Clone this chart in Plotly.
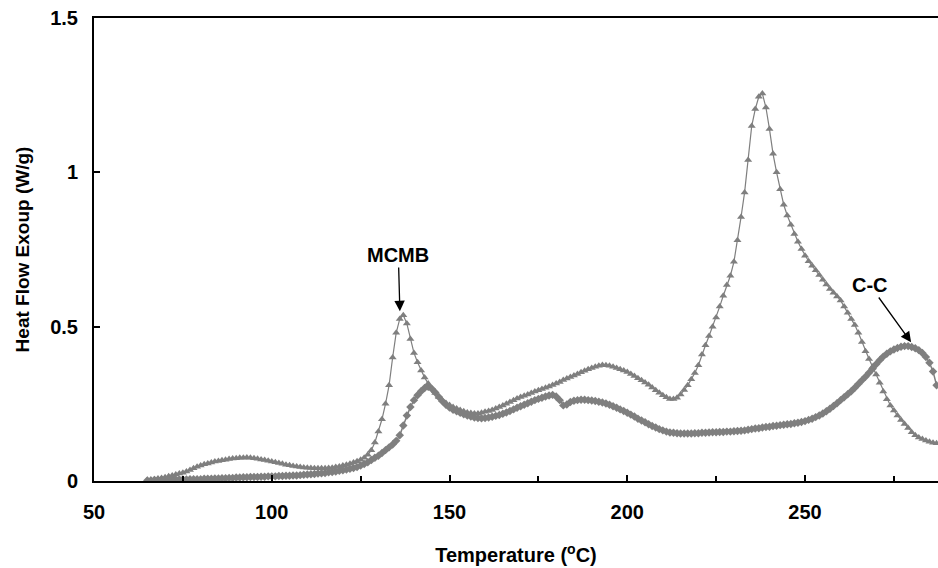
import plotly.graph_objects as go

# DSC heat flow traces (W/g) sampled every 1 degC
temperature = [
    65, 66, 67, 68, 69, 70, 71, 72, 73, 74, 75, 76, 77, 78, 79, 80, 81, 82, 83, 84,
    85, 86, 87, 88, 89, 90, 91, 92, 93, 94, 95, 96, 97, 98, 99, 100, 101, 102, 103, 104,
    105, 106, 107, 108, 109, 110, 111, 112, 113, 114, 115, 116, 117, 118, 119, 120, 121, 122, 123, 124,
    125, 126, 127, 128, 129, 130, 131, 132, 133, 134, 135, 136, 137, 138, 139, 140, 141, 142, 143, 144,
    145, 146, 147, 148, 149, 150, 151, 152, 153, 154, 155, 156, 157, 158, 159, 160, 161, 162, 163, 164,
    165, 166, 167, 168, 169, 170, 171, 172, 173, 174, 175, 176, 177, 178, 179, 180, 181, 182, 183, 184,
    185, 186, 187, 188, 189, 190, 191, 192, 193, 194, 195, 196, 197, 198, 199, 200, 201, 202, 203, 204,
    205, 206, 207, 208, 209, 210, 211, 212, 213, 214, 215, 216, 217, 218, 219, 220, 221, 222, 223, 224,
    225, 226, 227, 228, 229, 230, 231, 232, 233, 234, 235, 236, 237, 238, 239, 240, 241, 242, 243, 244,
    245, 246, 247, 248, 249, 250, 251, 252, 253, 254, 255, 256, 257, 258, 259, 260, 261, 262, 263, 264,
    265, 266, 267, 268, 269, 270, 271, 272, 273, 274, 275, 276, 277, 278, 279, 280, 281, 282, 283, 284,
    285, 286, 287,
]

mcmb = [
    0.003, 0.004, 0.006, 0.008, 0.010, 0.012, 0.015, 0.018, 0.021, 0.024, 0.027, 0.031, 0.036, 0.041, 0.046, 0.050, 0.054, 0.057, 0.060, 0.063,
    0.065, 0.067, 0.069, 0.071, 0.073, 0.074, 0.075, 0.075, 0.076, 0.075, 0.074, 0.072, 0.070, 0.068, 0.066, 0.063, 0.061, 0.058, 0.056, 0.053,
    0.051, 0.049, 0.047, 0.045, 0.044, 0.043, 0.042, 0.041, 0.041, 0.041, 0.041, 0.042, 0.043, 0.045, 0.047, 0.050, 0.053, 0.056, 0.060, 0.064,
    0.069, 0.075, 0.085, 0.100, 0.125, 0.160, 0.200, 0.250, 0.310, 0.400, 0.480, 0.525, 0.537, 0.510, 0.460, 0.415, 0.385, 0.358, 0.335, 0.316,
    0.300, 0.285, 0.272, 0.262, 0.253, 0.246, 0.240, 0.235, 0.230, 0.226, 0.222, 0.220, 0.219, 0.219, 0.221, 0.224, 0.227, 0.230, 0.235, 0.240,
    0.245, 0.250, 0.256, 0.262, 0.267, 0.272, 0.276, 0.280, 0.285, 0.290, 0.294, 0.298, 0.302, 0.306, 0.311, 0.316, 0.321, 0.327, 0.332, 0.337,
    0.342, 0.347, 0.352, 0.357, 0.362, 0.366, 0.370, 0.373, 0.376, 0.375, 0.373, 0.370, 0.366, 0.362, 0.358, 0.353, 0.347, 0.340, 0.333, 0.326,
    0.319, 0.312, 0.303, 0.294, 0.286, 0.278, 0.271, 0.266, 0.266, 0.270, 0.280, 0.295, 0.310, 0.330, 0.350, 0.375, 0.410, 0.440, 0.470, 0.500,
    0.530, 0.565, 0.600, 0.635, 0.665, 0.710, 0.780, 0.855, 0.935, 1.040, 1.150, 1.205, 1.245, 1.255, 1.210, 1.140, 1.060, 1.000, 0.945, 0.895,
    0.860, 0.830, 0.800, 0.775, 0.752, 0.730, 0.712, 0.697, 0.683, 0.667, 0.652, 0.637, 0.622, 0.610, 0.598, 0.585, 0.565, 0.545, 0.525, 0.505,
    0.480, 0.450, 0.420, 0.395, 0.370, 0.345, 0.318, 0.290, 0.265, 0.245, 0.228, 0.212, 0.198, 0.185, 0.172, 0.158, 0.148, 0.141, 0.136, 0.131,
    0.127, 0.124, 0.122,
]

cc = [
    0.002, 0.002, 0.003, 0.003, 0.004, 0.004, 0.004, 0.005, 0.005, 0.005, 0.005, 0.005, 0.006, 0.006, 0.006, 0.006, 0.007, 0.007, 0.007, 0.008,
    0.008, 0.009, 0.009, 0.010, 0.010, 0.011, 0.011, 0.012, 0.012, 0.013, 0.013, 0.013, 0.014, 0.014, 0.015, 0.015, 0.015, 0.016, 0.016, 0.017,
    0.017, 0.018, 0.018, 0.019, 0.020, 0.021, 0.022, 0.023, 0.024, 0.025, 0.026, 0.028, 0.029, 0.031, 0.033, 0.035, 0.037, 0.040, 0.042, 0.045,
    0.050, 0.055, 0.061, 0.068, 0.075, 0.082, 0.091, 0.100, 0.109, 0.118, 0.130, 0.148, 0.180, 0.212, 0.240, 0.262, 0.278, 0.291, 0.301, 0.305,
    0.299, 0.287, 0.272, 0.258, 0.247, 0.238, 0.231, 0.226, 0.221, 0.216, 0.212, 0.209, 0.206, 0.204, 0.203, 0.204, 0.206, 0.208, 0.211, 0.214,
    0.218, 0.222, 0.227, 0.232, 0.237, 0.242, 0.247, 0.252, 0.257, 0.262, 0.266, 0.270, 0.274, 0.277, 0.279, 0.274, 0.262, 0.245, 0.248, 0.256,
    0.260, 0.262, 0.263, 0.263, 0.262, 0.261, 0.259, 0.257, 0.254, 0.251, 0.247, 0.242, 0.237, 0.232, 0.227, 0.221, 0.215, 0.209, 0.202, 0.196,
    0.190, 0.184, 0.178, 0.173, 0.168, 0.164, 0.160, 0.157, 0.156, 0.155, 0.154, 0.154, 0.154, 0.154, 0.155, 0.155, 0.156, 0.156, 0.157, 0.158,
    0.158, 0.159, 0.159, 0.160, 0.160, 0.161, 0.162, 0.163, 0.164, 0.166, 0.168, 0.170, 0.171, 0.173, 0.175, 0.176, 0.178, 0.179, 0.181, 0.182,
    0.184, 0.185, 0.187, 0.189, 0.191, 0.194, 0.198, 0.202, 0.207, 0.212, 0.219, 0.226, 0.234, 0.243, 0.252, 0.262, 0.271, 0.281, 0.291, 0.302,
    0.314, 0.326, 0.338, 0.351, 0.364, 0.378, 0.391, 0.403, 0.412, 0.420, 0.426, 0.431, 0.435, 0.437, 0.437, 0.434, 0.430, 0.424, 0.415, 0.402,
    0.383, 0.355, 0.310,
]

x_tickvals = [50, 100, 150, 200, 250]
x_ticktext = ["50", "100", "150", "200", "250"]
y_tickvals = [0, 0.5, 1, 1.5]
y_ticktext = ["0", "0.5", "1", "1.5"]

GREY = "#7f7f7f"
FONT = "Liberation Sans, Arial, Helvetica, sans-serif"

fig = go.Figure()

fig.add_trace(go.Scatter(
    x=temperature, y=cc, mode="lines+markers", name="C-C",
    line=dict(color=GREY, width=1.5),
    marker=dict(symbol="diamond", size=6.5, color=GREY),
))
fig.add_trace(go.Scatter(
    x=temperature, y=mcmb, mode="lines+markers", name="MCMB",
    line=dict(color=GREY, width=1.2),
    marker=dict(symbol="triangle-up", size=7, color=GREY),
))

label_font = dict(family=FONT, size=20, color="black", weight="bold")

# curve labels, each with an arrow pointing at its peak
fig.add_annotation(x=136.05, y=0.547, ax=135.6, ay=0.732, axref="x", ayref="y",
                   text="MCMB", font=label_font, showarrow=True, arrowhead=2,
                   arrowsize=1.6, arrowwidth=1.3, arrowcolor="black", standoff=1)
fig.add_annotation(x=280.0, y=0.447, ax=268.2, ay=0.635, axref="x", ayref="y",
                   text="C-C", font=label_font, showarrow=True, arrowhead=2,
                   arrowsize=1.6, arrowwidth=1.3, arrowcolor="black", standoff=1)

fig.update_layout(
    width=938, height=568,
    margin=dict(l=94, r=0, t=18, b=87),
    paper_bgcolor="white", plot_bgcolor="white",
    showlegend=False,
    font=dict(family=FONT, size=20, color="black", weight="bold"),
)
fig.update_xaxes(
    range=[50, 287.4], tickvals=x_tickvals, ticktext=x_ticktext,
    showgrid=False, zeroline=False,
    showline=True, linecolor="black", linewidth=2, mirror=True,
    ticks="inside", ticklen=6, tickwidth=1.5, tickcolor="black",
    minor=dict(ticks="inside", tick0=50, dtick=25, ticklen=5, tickwidth=1.5,
               tickcolor="black", showgrid=False),
    ticklabelstandoff=12,
    title=dict(text="Temperature (<sup>o</sup>C)", standoff=26,
               font=dict(family=FONT, size=20, color="black", weight="bold")),
)
fig.update_yaxes(
    range=[0, 1.5], tickvals=y_tickvals, ticktext=y_ticktext,
    showgrid=False, zeroline=False,
    showline=True, linecolor="black", linewidth=2, mirror=False,
    ticks="inside", ticklen=6, tickwidth=1.5, tickcolor="black",
    ticklabelstandoff=10,
    title=dict(text="Heat Flow Exoup (W/g)", standoff=16,
               font=dict(family=FONT, size=19, color="black", weight="bold")),
)

fig.write_html("out.html")
